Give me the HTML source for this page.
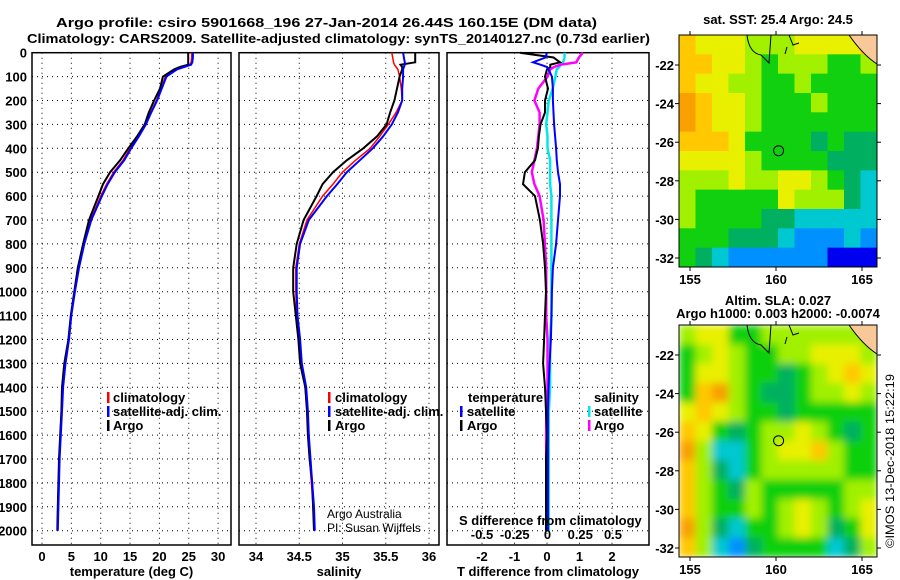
<!DOCTYPE html>
<html><head><meta charset="utf-8"><style>
html,body{margin:0;padding:0;background:#fff;}
svg{display:block;font-family:"Liberation Sans",sans-serif;}
.b{font-weight:bold;font-size:13px;}
</style></head><body>
<svg id="s" width="900" height="580" viewBox="0 0 900 580" xmlns="http://www.w3.org/2000/svg">
<defs>
<filter id="blur" x="0" y="0" width="1" height="1"><feGaussianBlur stdDeviation="4" edgeMode="duplicate"/></filter>
<clipPath id="clipSla"><rect x="679" y="325" width="198" height="232"/></clipPath>
</defs>
<text x="56" y="27" class="b" font-size="14" textLength="541" lengthAdjust="spacingAndGlyphs">Argo profile: csiro 5901668_196 27-Jan-2014 26.44S 160.15E (DM data)</text>
<text x="27" y="43" class="b" font-size="14" textLength="623" lengthAdjust="spacingAndGlyphs">Climatology: CARS2009. Satellite-adjusted climatology: synTS_20140127.nc (0.73d earlier)</text>
</svg>
<script>
const depths=[0,20,40,50,60,70,100,150,200,250,300,350,400,450,500,550,600,700,800,900,1000,1100,1200,1300,1400,1500,1600,1700,1800,1900,2000];
const tempArgo=[24.9,24.9,24.9,24.9,23.5,22.5,20.6,20.1,19.1,18.2,17.5,16.2,14.7,13.3,11.6,10.4,9.6,8.0,7.0,6.1,5.5,4.9,4.5,3.8,3.4,3.3,3.1,2.9,2.8,2.7,2.6];
const tempClim=[25.5,25.5,25.4,25.2,24.0,22.8,21.0,20.3,19.5,18.5,17.6,16.4,15.0,13.8,12.2,11.0,10.0,8.3,7.1,6.2,5.5,4.9,4.5,3.9,3.5,3.3,3.1,2.9,2.8,2.7,2.6];
const tempSat=[25.7,25.7,25.6,25.4,24.2,23.0,21.2,20.4,19.6,18.6,17.7,16.5,15.2,14.0,12.4,11.2,10.2,8.4,7.2,6.3,5.6,5.0,4.6,4.0,3.6,3.4,3.2,3.0,2.9,2.8,2.7];
const salArgo=[35.84,35.84,35.84,35.67,35.69,35.69,35.66,35.63,35.6,35.55,35.51,35.4,35.24,35.05,34.89,34.77,34.7,34.55,34.47,34.43,34.43,34.46,34.49,34.51,34.57,34.59,34.6,34.62,34.65,34.66,34.67];
const salClim=[35.57,35.58,35.59,35.6,35.62,35.64,35.66,35.68,35.69,35.62,35.53,35.43,35.32,35.15,35.0,34.89,34.77,34.59,34.5,34.46,34.46,34.47,34.5,34.52,34.57,34.59,34.6,34.62,34.64,34.66,34.67];
const salSat=[35.7,35.71,35.72,35.72,35.71,35.7,35.7,35.69,35.69,35.64,35.57,35.47,35.35,35.2,35.05,34.94,34.82,34.61,34.51,34.47,34.47,34.48,34.51,34.53,34.58,34.6,34.61,34.63,34.65,34.67,34.68];
const dTsat=[0,-0.05,-0.43,-0.2,0,0.05,0.15,0.18,0.18,0.2,0.22,0.25,0.28,0.3,0.34,0.4,0.4,0.34,0.28,0.18,0.15,0.14,0.12,0.08,0.05,0.03,0.03,0.03,0.03,0.03,0.03];
const dTargo=[-0.83,0.2,0.4,0.1,0.1,0.0,-0.06,0.03,-0.06,-0.06,-0.2,-0.25,-0.28,-0.37,-0.68,-0.74,-0.37,-0.22,-0.12,-0.06,-0.03,-0.06,-0.09,-0.12,-0.06,-0.03,0,-0.03,-0.03,-0.03,-0.03];
const dSsat=[0.13,0.13,0.12,0.1,0.09,0.07,0.06,0.04,0.01,0.0,-0.01,0.0,0.0,0.02,0.02,0.02,0.03,0.03,0.03,0.03,0.03,0.03,0.02,0.02,0.02,0.01,0.01,0.01,0.01,0.01,0.01];
const dSargo=[0.27,0.24,0.22,0.1,0.05,0.02,0.0,-0.07,-0.1,-0.06,-0.06,-0.07,-0.08,-0.1,-0.12,-0.1,-0.06,-0.03,-0.02,-0.01,-0.01,-0.01,0,0,0,-0.01,-0.01,-0.01,0,0,0];
const depthTicks=[0,100,200,300,400,500,600,700,800,900,1000,1100,1200,1300,1400,1500,1600,1700,1800,1900,2000];
const tTicks=[0,5,10,15,20,25,30];
const sTicks=[34,34.5,35,35.5,36];
const dtTicks=[-2,-1,0,1,2];
const dsTicks=[-0.5,-0.25,0,0.25,0.5];
const latTicks=[-22,-24,-26,-28,-30,-32];
const lonTicks=[155,160,165];
const sstGrid=[
[7,6,6,6,5,5,5,6,6,6,6,7],[7,7,6,6,5,4,5,5,5,4,4,5],[7,6,6,5,5,4,4,5,4,4,4,4],[8,7,6,6,5,4,4,4,5,4,4,4],
[8,7,6,6,5,4,4,4,4,4,4,4],[7,7,7,6,4,4,4,4,3,4,3,3],[6,6,6,6,5,4,4,4,4,3,3,3],[5,5,5,6,5,5,6,6,5,4,3,2],
[5,4,4,4,4,4,6,5,5,5,3,2],[5,4,4,4,4,3,3,2,2,2,2,2],[4,4,4,3,3,3,2,1,1,1,2,1],[4,3,2,1,1,1,1,1,1,0,0,0]];
const slaGrid=[
[5,6,6,4,4,5,5,5,5,5,5,5],[4,5,6,5,4,4,5,5,6,6,6,5],[4,6,6,5,4,4,3,4,5,6,7,6],[4,7,8,5,4,3,3,4,5,5,6,5],
[6,7,6,5,4,4,3,4,4,4,4,4],[7,6,4,3,4,5,5,6,5,4,3,4],[8,5,2,2,4,5,6,6,7,5,4,4],[7,5,3,2,4,5,5,5,5,5,4,4],
[7,5,4,3,5,4,4,4,4,4,5,5],[7,5,4,4,5,4,5,6,5,4,5,6],[8,5,3,2,4,4,5,6,5,3,4,6],[7,5,2,1,3,4,4,4,4,2,3,5]];
const palette=['#0000f0','#0090ff','#00c8d0','#00b060','#10d010','#a0f000','#e8f000','#ffc800','#f8a000'];

const NS='http://www.w3.org/2000/svg';
const svg=document.getElementById('s');
function mk(tag,attrs,parent){const e=document.createElementNS(NS,tag);for(const k in attrs)e.setAttribute(k,attrs[k]);(parent||svg).appendChild(e);return e;}
const yTop=52.7, yPer=0.239, yBot=545;
const yD=d=>yTop+d*yPer;
const xT=v=>42+v*5.87;
const xS=v=>256+(v-34)*86.5;
const xDT=v=>547+v*32.5;
const xDS=v=>547.5+v*131;

function panel(name,x0,x1,ticks,xf,ttl){
  const g=mk('g',{});
  
  
  depthTicks.forEach(d=>{const l=mk('line',{x1:x0,x2:x1,y1:yD(d),y2:yD(d),stroke:'#000','stroke-width':1,'stroke-dasharray':'1,4'},g);});
  ticks.forEach(t=>{const l=mk('line',{x1:xf(t),x2:xf(t),y1:yTop,y2:yBot,stroke:'#000','stroke-width':1,'stroke-dasharray':'1,4'},g);
    const tx=mk('text',{x:xf(t),y:561,'text-anchor':'middle',class:'b'},g);tx.textContent=t;});
  const r=mk('rect',{x:x0,y:yTop,width:x1-x0,height:yBot-yTop,fill:'none',stroke:'#000','stroke-width':1.5},g);
  
  const t=mk('text',{x:(x0+x1)/2,y:576,'text-anchor':'middle',class:'b'},g);t.textContent=ttl;
  
  return g;
}
function line(vals,xf,col,w,name){
  const p=vals.map((v,i)=>(i?'L':'M')+xf(v).toFixed(1)+','+yD(depths[i]).toFixed(1)).join('');
  const e=mk('path',{d:p,fill:'none',stroke:col,'stroke-width':w});
  
}
function txt(x,y,s,cls,name,extra,parent){const e=mk('text',Object.assign({x:x,y:y},cls?{class:cls}:{},extra||{}),parent);e.textContent=s;return e;}
function mark(x,y,col,name){const e=mk('rect',{x:x,y:y-10,width:2.5,height:11,fill:col});}

depthTicks.forEach(d=>{txt(27,yD(d)+5,String(d),'b','y-tick-label',{'text-anchor':'end'});});

panel('temperature-panel',32,231,tTicks,xT,'temperature (deg C)');
line(tempClim,xT,'#f00',1.5,'temp-climatology-line');
line(tempArgo,xT,'#000',2,'temp-argo-line');
line(tempSat,xT,'#00f',2,'temp-satellite-line');
mark(107,402,'#f00','legend-mark-climatology');txt(113,402,'climatology','b','legend-climatology');
mark(107,416,'#00f','legend-mark-satellite');txt(113,416,'satellite-adj. clim.','b','legend-satellite');
mark(107,430,'#000','legend-mark-argo');txt(113,430,'Argo','b','legend-argo');

panel('salinity-panel',239,439,sTicks,xS,'salinity');
line(salClim,xS,'#f00',1.5,'sal-climatology-line');
line(salArgo,xS,'#000',2,'sal-argo-line');
line(salSat,xS,'#00f',2,'sal-satellite-line');
mark(328,402,'#f00','legend-mark-climatology-2');txt(335,402,'climatology','b','legend-climatology-2');
mark(328,416,'#00f','legend-mark-satellite-2');txt(335,416,'satellite-adj. clim.','b','legend-satellite-2');
mark(328,430,'#000','legend-mark-argo-2');txt(335,430,'Argo','b','legend-argo-2');
txt(327,518,'Argo Australia','', 'credit-line-1',{'font-size':12});
txt(327,532,'PI: Susan Wijffels','', 'credit-line-2',{'font-size':12});

panel('difference-panel',447,649,dtTicks,xDT,'T difference from climatology');
line(dSsat,xDS,'#00e8e8',2.5,'s-diff-satellite-line');
line(dSargo,xDS,'#f0f',2.5,'s-diff-argo-line');
line(dTargo,xDT,'#000',2,'t-diff-argo-line');
line(dTsat,xDT,'#00f',2,'t-diff-satellite-line');
txt(468,402,'temperature','b','legend-temperature-header');
mark(460,416,'#00f','legend-mark-t-sat');txt(467,416,'satellite','b','legend-t-satellite');
mark(460,430,'#000','legend-mark-t-argo');txt(467,430,'Argo','b','legend-t-argo');
txt(594,402,'salinity','b','legend-salinity-header');
mark(588,416,'#00e8e8','legend-mark-s-sat');txt(594,416,'satellite','b','legend-s-satellite');
mark(588,430,'#f0f','legend-mark-s-argo');txt(594,430,'Argo','b','legend-s-argo');
txt(459,525,'S difference from climatology','b','s-axis-title');
dsTicks.forEach(t=>{txt(xDS(t),539,String(t),'b','s-tick-label',{'text-anchor':'middle'});});

function map(name,top,grid,title1,title2,smooth){
  const x0=679,x1=877,bot=top+232;
  const g=mk('g',{});
  
  const cells=mk('g',smooth?{'clip-path':'url(#clipSla)'}:{},g);
  
  const inner=mk('g',smooth?{filter:'url(#blur)'}:{},cells);
  const cw=(x1-x0)/12,ch=(bot-top)/12;
  grid.forEach((row,r)=>row.forEach((v,c)=>{const e=mk('rect',{x:x0+c*cw,y:top+r*ch,width:cw+0.5,height:ch+0.5,fill:palette[v]},inner);}));
  const land=mk('path',{d:`M${x1-28},${top} L${x1},${top} L${x1},${top+29} Q${x1-14},${top+20} ${x1-28},${top}Z`,fill:'#f8c898',stroke:'#000','stroke-width':1},g);
  
  const ct=mk('path',{d:`M${x0+68},${top} Q${x0+70},${top+18} ${x0+82},${top+20} L${x0+90},${top+28} L${x0+92},${top} M${x0+110},${top} L${x0+114},${top+10} L${x0+120},${top+8} M${x0+108},${top+12} L${x0+106},${top+19}`,fill:'none',stroke:'#000','stroke-width':1},g);
  
  const lx=v=>690+(v-155)*17.2, ly=v=>top+30+(-22-v)*19.3;
  const c=mk('circle',{cx:lx(160.15),cy:ly(-26.44),r:5,fill:'none',stroke:'#000','stroke-width':1},g);
  
  const fr=mk('rect',{x:x0,y:top,width:x1-x0,height:bot-top,fill:'none',stroke:'#000','stroke-width':1},g);
  
  latTicks.forEach(t=>{mk('line',{x1:x1,x2:x1+4,y1:ly(t),y2:ly(t),stroke:'#000'},g);mk('line',{x1:x0,x2:x0-4,y1:ly(t),y2:ly(t),stroke:'#000'},g);txt(674,ly(t)+5,String(t),'b','lat-tick-label',{'text-anchor':'end'},g);});
  lonTicks.forEach(t=>{mk('line',{x1:lx(t),x2:lx(t),y1:top,y2:top-4,stroke:'#000'},g);mk('line',{x1:lx(t),x2:lx(t),y1:bot,y2:bot+4,stroke:'#000'},g);txt(lx(t),bot+17,String(t),'b','lon-tick-label',{'text-anchor':'middle'},g);});
  txt(778,title2?top-20:top-11,title1,'b','map-title',{'text-anchor':'middle','font-size':12},g);
  if(title2)txt(778,top-7,title2,'b','map-subtitle',{'text-anchor':'middle','font-size':12},g);
}
map('sst-map',35,sstGrid,'sat. SST: 25.4 Argo: 24.5','',false);
map('sla-map',325,slaGrid,'Altim. SLA: 0.027','Argo h1000: 0.003 h2000: -0.0074',true);
txt(0,0,'©IMOS 13-Dec-2018 15:22:19','','imos-credit',{transform:'translate(894,548) rotate(-90)','font-size':12,textLength:174,lengthAdjust:'spacingAndGlyphs'});
</script>
</body></html>
